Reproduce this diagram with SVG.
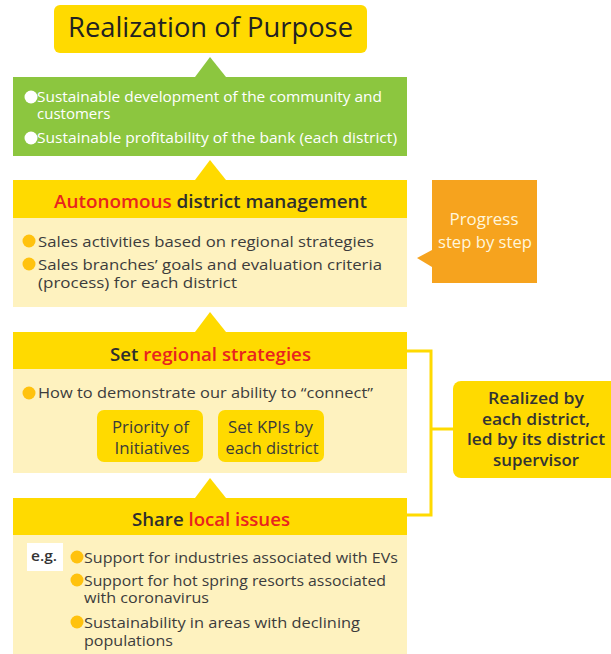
<svg xmlns="http://www.w3.org/2000/svg" width="611" height="654" viewBox="0 0 611 654">
  <style>
    text { font-family: "Open Sans", "Noto Sans", "Liberation Sans", sans-serif; }
    .body { font-size: 15px; fill: #3c3c3c; }
    .head { font-size: 18px; font-weight: 600; fill: #2e2e2e; }
    .red { fill: #e8231f; }
    .white { font-size: 15px; fill: #ffffff; }
    .yel { fill: #ffda00; }
    .pale { fill: #fef2bf; }
    .dot { fill: #ffc20e; }
    .box { font-size: 15.5px; fill: #3a3a3a; text-anchor: middle; }
    .bold { font-size: 16px; font-weight: 600; fill: #333333; text-anchor: middle; }
  </style>

  <!-- connectors: upward pointers between tiers and the bracket to the side note -->
  <g id="connectors">
    <polygon points="195,77 210,57 226,77" fill="#8cc63f"/>
    <polygon points="195,180 210,160 226,180" class="yel"/>
    <polygon points="195,332 210,312 226,332" class="yel"/>
    <polygon points="195,498 210,478 226,498" class="yel"/>
    <polyline points="407,351 431,351 431,515 407,515" fill="none" stroke="#ffda00" stroke-width="3"/>
    <line x1="431" y1="429" x2="454" y2="429" stroke="#ffda00" stroke-width="3"/>
  </g>

  <g id="purpose">
    <rect x="54" y="5" width="313" height="48" rx="6" class="yel"/>
    <text x="210.5" y="37" text-anchor="middle" font-size="28" font-weight="500" fill="#222" textLength="285" lengthAdjust="spacingAndGlyphs">Realization of Purpose</text>
  </g>

  <g id="sustainability">
    <rect x="13" y="77" width="394" height="79" fill="#8cc63f"/>
    <circle cx="31" cy="97" r="6.5" fill="#fff"/>
    <text x="37" y="102" class="white" textLength="345" lengthAdjust="spacingAndGlyphs">Sustainable development of the community and</text>
    <text x="37" y="119" class="white">customers</text>
    <circle cx="31" cy="138" r="6.5" fill="#fff"/>
    <text x="37" y="143" class="white" textLength="360" lengthAdjust="spacingAndGlyphs">Sustainable profitability of the bank (each district)</text>
  </g>

  <g id="autonomous">
    <rect x="13" y="180" width="394" height="38" class="yel"/>
    <rect x="13" y="218" width="394" height="89" class="pale"/>
    <text x="210.5" y="208" text-anchor="middle" class="head" textLength="313" lengthAdjust="spacingAndGlyphs"><tspan class="red">Autonomous</tspan> district management</text>
    <circle cx="29" cy="241" r="6.5" class="dot"/>
    <text x="38" y="247" class="body" textLength="336" lengthAdjust="spacingAndGlyphs">Sales activities based on regional strategies</text>
    <circle cx="29" cy="264" r="6.5" class="dot"/>
    <text x="38" y="270" class="body" textLength="344" lengthAdjust="spacingAndGlyphs">Sales branches’ goals and evaluation criteria</text>
    <text x="38" y="288" class="body" textLength="199" lengthAdjust="spacingAndGlyphs">(process) for each district</text>
  </g>

  <g id="progress">
    <rect x="432" y="180" width="105" height="103" fill="#f6a31e"/>
    <polygon points="432,250 417,258 432,267" fill="#f6a31e"/>
    <text x="484" y="225" text-anchor="middle" font-size="17" font-weight="500" fill="#fff6dc" textLength="69" lengthAdjust="spacingAndGlyphs">Progress</text>
    <text x="485" y="248" text-anchor="middle" font-size="17" font-weight="500" fill="#fff6dc" textLength="94" lengthAdjust="spacingAndGlyphs">step by step</text>
  </g>

  <g id="strategies">
    <rect x="13" y="332" width="394" height="37" class="yel"/>
    <rect x="13" y="369" width="394" height="104" class="pale"/>
    <text x="210.5" y="361" text-anchor="middle" class="head" textLength="201" lengthAdjust="spacingAndGlyphs">Set <tspan class="red">regional strategies</tspan></text>
    <circle cx="29" cy="393" r="6.5" class="dot"/>
    <text x="38" y="398" class="body" textLength="335" lengthAdjust="spacingAndGlyphs">How to demonstrate our ability to “connect”</text>
  </g>

  <g id="priority">
    <rect x="97" y="410" width="106" height="52" rx="7" class="yel"/>
    <text x="150.5" y="433" class="box" textLength="77" lengthAdjust="spacingAndGlyphs">Priority of</text>
    <text x="152" y="454" class="box" textLength="75" lengthAdjust="spacingAndGlyphs">Initiatives</text>
  </g>

  <g id="kpis">
    <rect x="218" y="410" width="106" height="52" rx="7" class="yel"/>
    <text x="270.5" y="433" class="box" textLength="85" lengthAdjust="spacingAndGlyphs">Set KPIs by</text>
    <text x="272" y="454" class="box" textLength="93" lengthAdjust="spacingAndGlyphs">each district</text>
  </g>

  <g id="local-issues">
    <rect x="13" y="498" width="394" height="37" class="yel"/>
    <rect x="13" y="535" width="394" height="119" class="pale"/>
    <text x="211" y="526" text-anchor="middle" class="head" textLength="158" lengthAdjust="spacingAndGlyphs">Share <tspan class="red">local issues</tspan></text>
    <rect x="27" y="543" width="36" height="28" fill="#fff"/>
    <text x="44" y="561" text-anchor="middle" font-size="15" font-weight="600" fill="#333" textLength="26" lengthAdjust="spacingAndGlyphs">e.g.</text>
    <circle cx="77" cy="557" r="6.5" class="dot"/>
    <text x="84" y="563" class="body" textLength="314" lengthAdjust="spacingAndGlyphs">Support for industries associated with EVs</text>
    <circle cx="77" cy="580" r="6.5" class="dot"/>
    <text x="84" y="586" class="body" textLength="302" lengthAdjust="spacingAndGlyphs">Support for hot spring resorts associated</text>
    <text x="84" y="603" class="body" textLength="125" lengthAdjust="spacingAndGlyphs">with coronavirus</text>
    <circle cx="77" cy="622" r="6.5" class="dot"/>
    <text x="84" y="628" class="body" textLength="276" lengthAdjust="spacingAndGlyphs">Sustainability in areas with declining</text>
    <text x="84" y="646" class="body" textLength="89" lengthAdjust="spacingAndGlyphs">populations</text>
  </g>

  <g id="realized">
    <rect x="453" y="381" width="166" height="97" rx="8" class="yel"/>
    <text x="536" y="404" class="bold" textLength="96" lengthAdjust="spacingAndGlyphs">Realized by</text>
    <text x="536" y="425" class="bold" textLength="108" lengthAdjust="spacingAndGlyphs">each district,</text>
    <text x="536" y="445" class="bold" textLength="138" lengthAdjust="spacingAndGlyphs">led by its district</text>
    <text x="536" y="466" class="bold" textLength="86" lengthAdjust="spacingAndGlyphs">supervisor</text>
  </g>
</svg>
